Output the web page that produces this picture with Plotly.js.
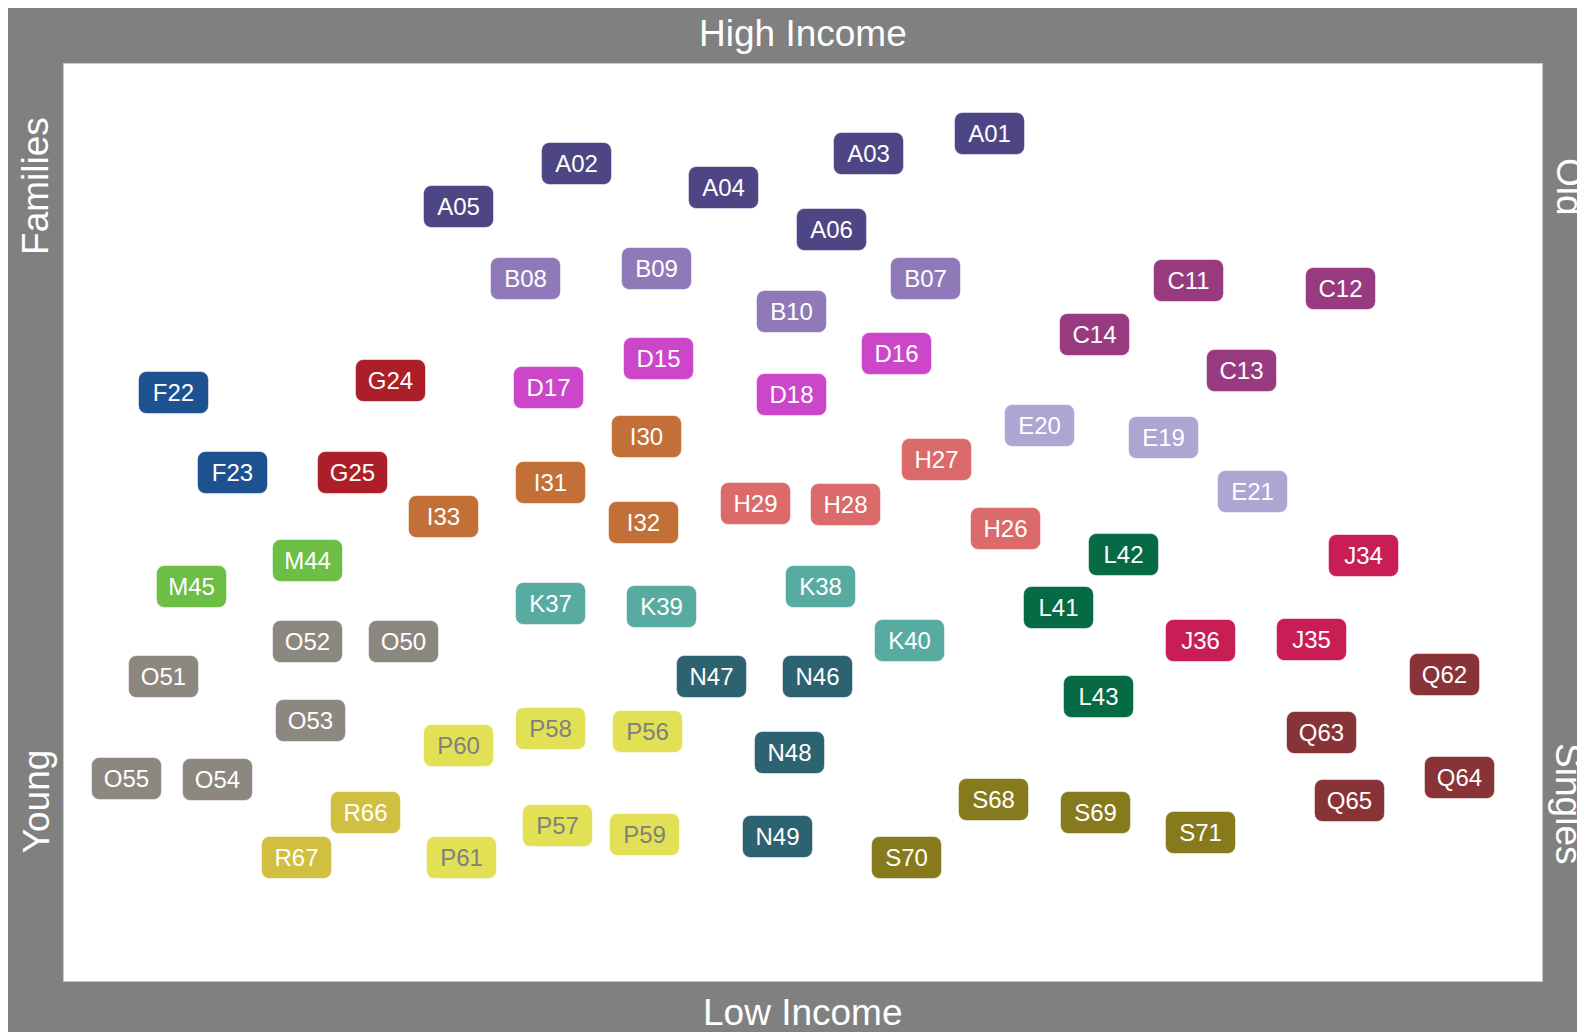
<!DOCTYPE html>
<html>
<head>
<meta charset="utf-8">
<script src="https://cdn.plot.ly/plotly-3.0.1.min.js"></script>
<style>
    body { margin: 8px; overflow: hidden; background: #ffffff; }
</style>
</head>
<body>
<div id="plotField"></div>
<script>
// segment codes and their position on the map (0-100 on both axes)
var codes = ['A01','A02','A03','A04','A05','A06',
    'B07','B08','B09','B10',
    'C11','C12','C13','C14',
    'D15','D16','D17','D18',
    'E19','E20','E21',
    'F22','F23','G24','G25',
    'H26','H27','H28','H29',
    'I30','I31','I32','I33',
    'J34','J35','J36',
    'K37','K38','K39','K40',
    'L41','L42','L43',
    'M44','M45',
    'N46','N47','N48','N49',
    'O50','O51','O52','O53','O54','O55',
    'P56','P57','P58','P59','P60','P61',
    'Q62','Q63','Q64','Q65',
    'R66','R67',
    'S68','S69','S70','S71'];

var xs = [62.6, 34.7, 54.4, 44.6, 26.7, 51.9,
    58.3, 31.2, 40.1, 49.2,
    76.1, 86.4, 79.7, 69.7,
    40.2, 56.3, 32.8, 49.2,
    74.4, 66.0, 80.4,
    7.4, 11.4, 22.1, 19.5,
    63.7, 59.0, 52.9, 46.8,
    39.4, 32.9, 39.2, 25.7,
    87.9, 84.4, 76.9,
    32.9, 51.2, 40.4, 57.2,
    67.3, 71.7, 70.0,
    16.5, 8.6,
    51.0, 43.8, 49.1, 48.3,
    23.0, 6.7, 16.5, 16.7, 10.4, 4.2,
    39.5, 33.4, 32.9, 39.3, 26.7, 26.9,
    93.4, 85.1, 94.4, 87.0,
    20.4, 15.7,
    62.9, 69.8, 57.0, 76.9];

var ys = [92.4, 89.1, 90.2, 86.5, 84.5, 82.0,
    76.6, 76.6, 77.7, 73.0,
    76.4, 75.5, 66.6, 70.5,
    67.9, 68.4, 64.7, 64.0,
    59.3, 60.6, 53.4,
    64.2, 55.5, 65.5, 55.4,
    49.4, 56.9, 52.0, 52.1,
    59.4, 54.4, 50.0, 50.7,
    46.4, 37.2, 37.1,
    41.2, 43.0, 40.8, 37.1,
    40.7, 46.5, 31.0,
    45.9, 43.0,
    33.2, 33.2, 24.9, 15.8,
    37.0, 33.2, 37.0, 28.4, 22.0, 22.1,
    27.2, 17.0, 27.5, 16.0, 25.7, 13.5,
    33.4, 27.1, 22.2, 19.7,
    18.4, 13.5,
    19.8, 18.4, 13.5, 16.2];

// one colour per group letter
var groupLetters = ['A','B','C','D','E','F','G','H','I','J','K','L','M','N','O','P','Q','R','S'];
var groupColors = ['#4d4584','#8f79b9','#983a80','#cc46c9','#aca6d3','#1e5190','#ad1f28',
    '#db6a6a','#c27038','#c81e55','#58aba1','#066a45','#6cbe45','#2d6270','#8c8880',
    '#e2e156','#883337','#d1bf41','#877a1c'];
var textColors = ['#ffffff','#ffffff','#ffffff','#ffffff','#ffffff','#ffffff','#ffffff',
    '#ffffff','#ffffff','#ffffff','#ffffff','#ffffff','#ffffff','#ffffff','#ffffff',
    '#808080','#ffffff','#ffffff','#ffffff'];

var edgeLabels = ['High Income', 'Low Income', 'Families', 'Young', 'Old', 'Singles'];

function buildAnnotations() {
    var anns = [];
    for (let i = 0; i < codes.length; i++) {
        let g = groupLetters.indexOf(codes[i][0]);
        anns.push({
            x: xs[i], y: ys[i], xref: 'x', yref: 'y',
            text: codes[i],
            showarrow: false,
            width: 61, height: 33,
            borderpad: 4,
            borderwidth: 1,
            bordercolor: 'rgba(255,255,255,0.5)',
            bgcolor: groupColors[g],
            font: {family: 'Liberation Sans, Arial, sans-serif', size: 24, color: textColors[g]}
        });
    }
    var edgeFont = {family: 'Liberation Sans, Arial, sans-serif', size: 37, color: '#ffffff'};
    // top / bottom
    anns.push({text: edgeLabels[0], xref: 'paper', yref: 'paper', x: 0.5, y: 1, yshift: 31,
        yanchor: 'middle', showarrow: false, font: edgeFont});
    anns.push({text: edgeLabels[1], xref: 'paper', yref: 'paper', x: 0.5, y: 0, yshift: -31,
        yanchor: 'middle', showarrow: false, font: edgeFont});
    // left side
    anns.push({text: edgeLabels[2], xref: 'paper', yref: 'paper', x: 0, xshift: -28, y: 0.867,
        textangle: -90, xanchor: 'center', yanchor: 'middle', showarrow: false, font: edgeFont});
    anns.push({text: edgeLabels[3], xref: 'paper', yref: 'paper', x: 0, xshift: -28, y: 0.196,
        textangle: -90, xanchor: 'center', yanchor: 'middle', showarrow: false, font: edgeFont});
    // right side
    anns.push({text: edgeLabels[4], xref: 'paper', yref: 'paper', x: 1, xshift: 27, y: 0.866,
        textangle: 90, xanchor: 'center', yanchor: 'middle', showarrow: false, font: edgeFont});
    anns.push({text: edgeLabels[5], xref: 'paper', yref: 'paper', x: 1, xshift: 27, y: 0.194,
        textangle: 90, xanchor: 'center', yanchor: 'middle', showarrow: false, font: edgeFont});
    return anns;
}

function roundBoxes() {
    document.querySelectorAll('.annotation-text-g rect.bg').forEach(function(r) {
        r.setAttribute('rx', 8);
        r.setAttribute('ry', 8);
    });
}

var axisStyle = {
    range: [0, 100],
    showgrid: false, zeroline: false, showticklabels: false, ticks: '',
    showline: true, mirror: true, linecolor: '#c8c8c8', linewidth: 1,
    fixedrange: true
};

var layout = {
    width: 1590,
    height: 1029,
    margin: {l: 56, r: 56, t: 56, b: 56},
    paper_bgcolor: '#808080',
    plot_bgcolor: '#ffffff',
    showlegend: false,
    xaxis: Object.assign({}, axisStyle),
    yaxis: Object.assign({}, axisStyle),
    annotations: buildAnnotations()
};

var data = [{x: [], y: [], type: 'scatter', mode: 'markers', hoverinfo: 'skip'}];

Plotly.newPlot('plotField', data, layout, {displayModeBar: false, staticPlot: true}).then(function(gd) {
    roundBoxes();
    gd.on('plotly_afterplot', roundBoxes);
});
</script>
</body>
</html>
